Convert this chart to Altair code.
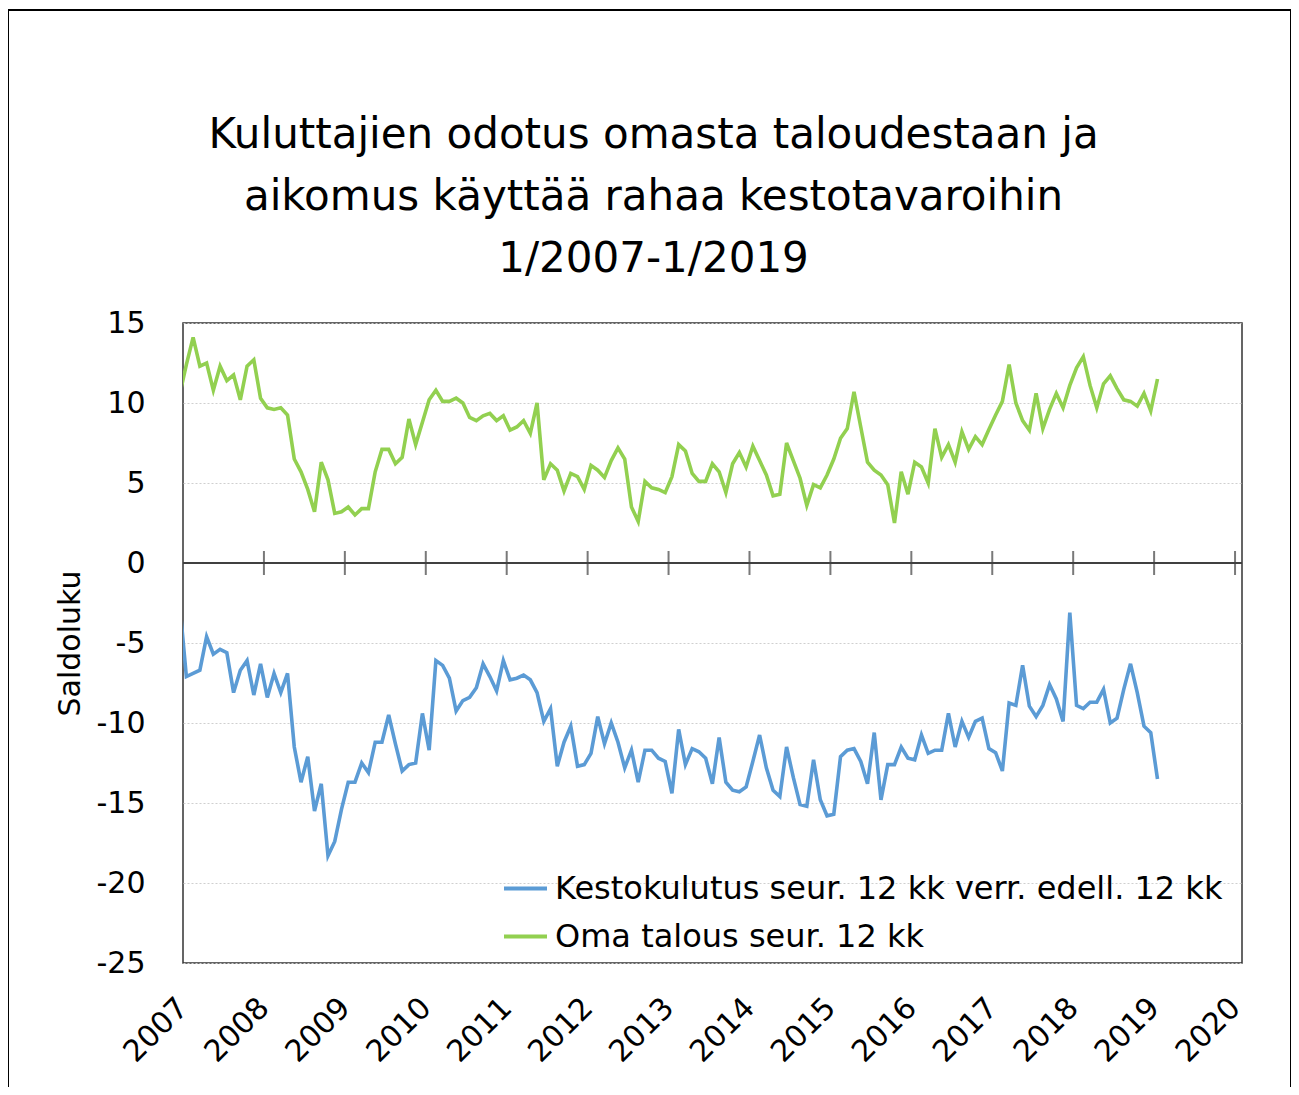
import altair as alt
import pandas as pd

FONT = "DejaVu Sans"

# month index counted from January 2007 (-1 = December 2006, clipped at the left edge)
month_index = list(range(-1, 145))

kestokulutus = [
    -2.5,
    -7.1, -6.9, -6.7, -4.6, -5.7, -5.4, -5.6, -8.1, -6.7, -6.1, -8.25, -6.3,
    -8.4, -6.9, -8.1, -6.9, -11.5, -13.7, -12.1, -15.5, -13.8, -18.3, -17.4, -15.4,
    -13.7, -13.7, -12.5, -13.1, -11.2, -11.2, -9.5, -11.3, -13.0, -12.6, -12.5, -9.4,
    -11.7, -6.1, -6.4, -7.2, -9.25, -8.6, -8.4, -7.8, -6.3, -7.1, -8.0, -6.1,
    -7.3, -7.2, -7.0, -7.3, -8.1, -9.9, -9.1, -12.7, -11.2, -10.2, -12.7, -12.6,
    -11.9, -9.6, -11.3, -10.0, -11.2, -12.8, -11.7, -13.7, -11.7, -11.7, -12.2, -12.4,
    -14.4, -10.4, -12.6, -11.6, -11.8, -12.2, -13.8, -10.9, -13.7, -14.2, -14.3, -14.0,
    -12.4, -10.75, -12.8, -14.2, -14.6, -11.5, -13.4, -15.1, -15.2, -12.3, -14.8, -15.8,
    -15.7, -12.1, -11.7, -11.6, -12.4, -13.8, -10.6, -14.8, -12.6, -12.6, -11.5, -12.2,
    -12.3, -10.75, -11.9, -11.7, -11.7, -9.4, -11.5, -9.9, -10.9, -9.9, -9.7, -11.6,
    -11.85, -13.0, -8.75, -8.9, -6.4, -8.95, -9.6, -8.9, -7.6, -8.5, -9.9, -3.1,
    -8.9, -9.1, -8.7, -8.7, -7.9, -10.0, -9.7, -7.9, -6.3, -8.1, -10.2, -10.6,
    -13.5,
]

oma_talous = [
    10.5,
    12.4, 14.1, 12.3, 12.5, 10.8, 12.3, 11.4, 11.75, 10.2, 12.3, 12.7, 10.3,
    9.7, 9.6, 9.7, 9.25, 6.5, 5.7, 4.6, 3.2, 6.3, 5.2, 3.1, 3.2,
    3.5, 3.0, 3.4, 3.4, 5.7, 7.1, 7.1, 6.2, 6.6, 9.0, 7.4, 8.8,
    10.2, 10.8, 10.1, 10.1, 10.3, 10.0, 9.1, 8.9, 9.2, 9.35, 8.9, 9.2,
    8.3, 8.5, 8.9, 8.1, 10.0, 5.2, 6.2, 5.8, 4.5, 5.6, 5.4, 4.6,
    6.1, 5.8, 5.35, 6.4, 7.2, 6.5, 3.5, 2.6, 5.1, 4.7, 4.6, 4.4,
    5.4, 7.4, 7.0, 5.6, 5.1, 5.1, 6.2, 5.7, 4.4, 6.2, 6.9, 6.0,
    7.3, 6.4, 5.5, 4.2, 4.3, 7.5, 6.4, 5.3, 3.6, 4.9, 4.7, 5.5,
    6.5, 7.8, 8.4, 10.7, 8.5, 6.3, 5.8, 5.5, 4.9, 2.5, 5.7, 4.3,
    6.3, 6.0, 5.0, 8.4, 6.6, 7.4, 6.3, 8.2, 7.1, 7.9, 7.4, 8.35,
    9.25, 10.1, 12.4, 10.0, 8.9, 8.3, 10.6, 8.4, 9.6, 10.6, 9.7, 11.1,
    12.2, 12.9, 11.1, 9.7, 11.2, 11.7, 10.9, 10.2, 10.1, 9.8, 10.6, 9.5,
    11.5,
]

series_names = [
    "Kestokulutus seur. 12 kk verr. edell. 12 kk",
    "Oma talous seur. 12 kk",
]
series_colors = ["#5B9BD5", "#92D050"]
year_ticks = list(range(2007, 2021))
y_ticks = list(range(-25, 20, 5))
title_lines = [
    "Kuluttajien odotus omasta taloudestaan ja",
    "aikomus käyttää rahaa kestotavaroihin",
    "1/2007-1/2019",
]

rows = []
for m, b, g in zip(month_index, kestokulutus, oma_talous):
    t = 2007 + (m + 0.5) / 12
    rows.append({"aika": t, "sarja": series_names[0], "saldo": b})
    rows.append({"aika": t, "sarja": series_names[1], "saldo": g})
df = pd.DataFrame(rows)

xscale = alt.Scale(domain=[2007, 2020.086], nice=False, zero=False)
yscale = alt.Scale(domain=[-25, 15], nice=False, zero=False)

lines = alt.Chart(df).mark_line(strokeWidth=3.6, clip=True).encode(
    x=alt.X(
        "aika:Q",
        scale=xscale,
        axis=alt.Axis(
            values=year_ticks, format="d", labelAngle=-45, labelAlign="right",
            labelBaseline="middle", labelFontSize=30, labelPadding=40,
            ticks=False, domain=False, grid=False, title=None,
            labelFlush=False, labelOverlap=False,
        ),
    ),
    y=alt.Y(
        "saldo:Q",
        scale=yscale,
        axis=alt.Axis(
            values=y_ticks, labelFontSize=30, labelPadding=38, ticks=False,
            labelExpr="'' + datum.value",
            domain=False, grid=True, gridDash=[2, 2], gridColor="#cfcfcf",
            title="Saldoluku", titleFontSize=30, titleFontWeight="normal",
            titlePadding=11,
        ),
    ),
    color=alt.Color(
        "sarja:N",
        scale=alt.Scale(domain=series_names, range=series_colors),
        sort=series_names,
        legend=alt.Legend(
            orient="none", legendX=319, legendY=542, title=None,
            symbolType="stroke", symbolSize=1849, symbolStrokeWidth=4,
            labelFontSize=32, labelLimit=1000, rowPadding=8, labelOffset=6,
            direction="vertical",
        ),
    ),
)

zero_line = alt.Chart(pd.DataFrame({"y": [0]})).mark_rule(
    color="#404040", strokeWidth=2
).encode(y=alt.Y("y:Q", scale=yscale))

zero_ticks = alt.Chart(pd.DataFrame({"vuosi": year_ticks[1:], "y": 0})).mark_tick(
    orient="vertical", size=24, thickness=2, color="#404040"
).encode(
    x=alt.X("vuosi:Q", scale=xscale),
    y=alt.Y("y:Q", scale=yscale),
)

frame = alt.Chart(pd.DataFrame({"a": [0]})).mark_rect(
    fill="transparent", stroke="black", strokeWidth=2, clip=False
).encode(
    x=alt.value(-175), x2=alt.value(1108), y=alt.value(-313), y2=alt.value(775)
)

chart = alt.layer(lines, zero_line, zero_ticks, frame).properties(
    width=1059,
    height=640,
    padding={"left": 175, "top": 315, "right": 49, "bottom": 124},
    autosize=alt.AutoSizeParams(type="none"),
    background="white",
    title=alt.Title(
        title_lines, fontSize=42, fontWeight="normal", anchor="middle",
        dx=-59, offset=-272, lineHeight=62, color="black", font=FONT,
    ),
).configure_view(
    stroke="#333333", strokeWidth=1.5
).configure_axis(
    labelColor="black", labelFont=FONT, titleFont=FONT, titleColor="black"
).configure_legend(
    labelFont=FONT, labelColor="black"
)

chart.save("out.html", embed_options={"renderer": "svg", "actions": False})
